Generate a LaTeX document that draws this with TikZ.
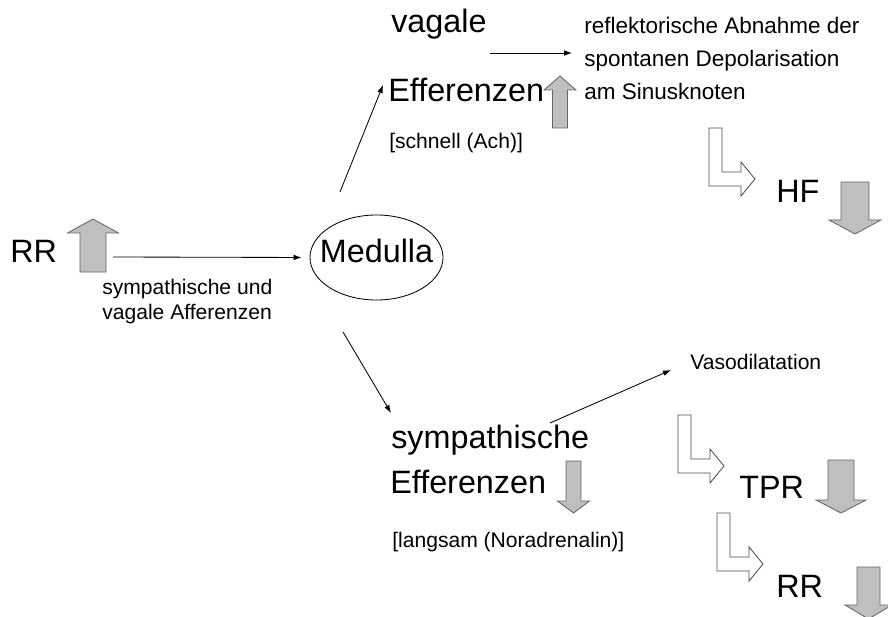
\documentclass[tikz,border=0pt]{standalone}
\usepackage{fontspec}
\setmainfont{Liberation Sans}
\usetikzlibrary{arrows.meta,shapes.geometric}
\colorlet{arrowgray}{black!25}
\colorlet{edgegray}{black!60}

% x, tail y, head base y, tip y, shaft half width, head half width
\newcommand{\grayarrow}[6]{%
\draw[grayblock] (#1-#5,#2) -- (#1-#5,#3) -- (#1-#6,#3) -- (#1,#4)
  -- (#1+#6,#3) -- (#1+#5,#3) -- (#1+#5,#2) -- cycle;}

\tikzset{
  bigtext/.style={inner sep=0, anchor=base west, font=\fontsize{23}{27}\selectfont},
  smalltext/.style={inner sep=0, anchor=base west, align=left, font=\fontsize{15}{17.1}\selectfont},
  thinarrow/.style={-{Latex[length=2mm,width=1.4mm]}, line width=0.6pt},
  grayblock/.style={fill=arrowgray, draw=edgegray, line width=0.6pt},
  hollow/.style={fill=white, draw=black!70, line width=0.6pt},
  lbend/.pic={\draw[hollow] (0,0) -- (13,0) -- (13,44) -- (32,44) -- (32,34)
    -- (46,51) -- (32,68) -- (32,58) -- (0,58) -- cycle;}
}

\begin{document}
\begin{tikzpicture}[x=0.025cm, y=-0.025cm]
\useasboundingbox (0,0) rectangle (888,617);
% Afferenzen
\node[bigtext] (rr) at (10,262) {RR};
\grayarrow{93}{272}{233}{219}{13}{25.5}
% base of a two-line node = last line
\node[smalltext] (afferenz) at (102,319) {sympathische und\\vagale Afferenzen};
\node[draw, ellipse, line width=0.6pt, minimum width=3.325cm, minimum height=2.125cm, inner sep=0] (medulla) at (376.5,257.5) {};
\node[bigtext, anchor=base] (medtext) at (376.5,262) {Medulla};
\coordinate (rrstart) at (113,257);
\draw[thinarrow, shorten >=0.2cm] (rrstart) -- (medulla.west);

% vagal
\coordinate (medup) at (340,192);
\coordinate (effin) at (383,85);
\draw[thinarrow] (medup) -- (effin);
\node[bigtext] (vagale) at (391,33) {vagale};
\node[bigtext] (effup) at (388,102) {Efferenzen};
\grayarrow{560}{128}{90}{76}{7.5}{16}
\node[smalltext] (schnell) at (389,149) {[schnell (Ach)]};
\node[smalltext, font=\fontsize{16}{23.8}\selectfont] (reflex) at (584,100)
  {reflektorische Abnahme der\\spontanen Depolarisation\\am Sinusknoten};
\coordinate (vagstart) at (490,53);
\coordinate (vagend) at (572,53);
\draw[thinarrow] (vagstart) -- (vagend);
\pic at (709,128) {lbend};
\node[bigtext] (hf) at (776,203) {HF};
\grayarrow{855}{182}{220}{234}{14}{26}

% sympathisch
\coordinate (meddown) at (343,332);
\coordinate (symin) at (391,413);
\draw[thinarrow] (meddown) -- (symin);
\node[bigtext] (sympath) at (391,448) {sympathische};
\node[bigtext] (effdown) at (390,493) {Efferenzen};
\grayarrow{573.5}{461}{501}{513}{7.5}{16}
\node[smalltext] (langsam) at (392,547) {[langsam (Noradrenalin)]};
\coordinate (vasostart) at (550,423);
\coordinate (vasoend) at (671,370);
\draw[thinarrow] (vasostart) -- (vasoend);
\node[smalltext] (vaso) at (690,369) {Vasodilatation};
\pic at (678,415) {lbend};
\node[bigtext] (tpr) at (739,498) {TPR};
\grayarrow{841}{460}{500}{513}{13}{25}
\pic at (717,513) {lbend};
\node[bigtext] (rrend) at (776,597) {RR};
\grayarrow{868.5}{567}{605}{619}{11.5}{23.5}
\end{tikzpicture}
\end{document}
